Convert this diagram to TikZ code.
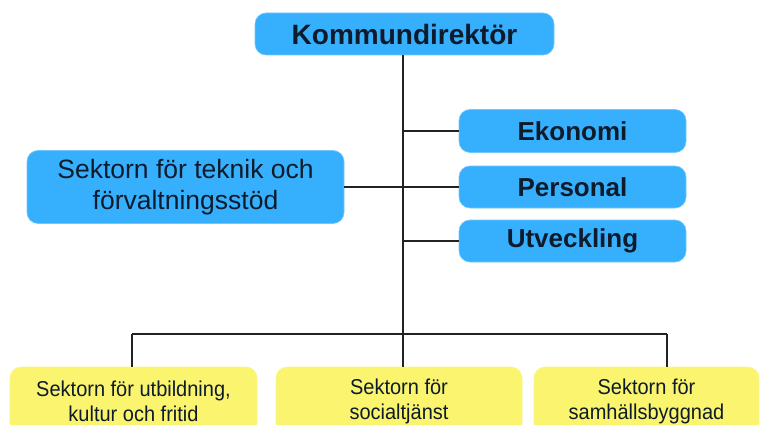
\documentclass[tikz,border=0pt]{standalone}
\usepackage{fontspec}
\setmainfont{Liberation Sans}
\newfontfamily\narrowfont[FakeStretch=0.93]{Liberation Sans}
\definecolor{boxblue}{HTML}{36AFFD}
\definecolor{boxyellow}{HTML}{FAF46E}
\definecolor{ink}{HTML}{0E1B2B}
\definecolor{linec}{HTML}{222222}
\begin{document}
\begin{tikzpicture}[x=1pt,y=-1pt,
  bluebox/.style={rectangle,rounded corners=11pt,fill=boxblue,draw=boxblue!70!white,line width=0.6pt,text=ink,align=center,inner sep=0pt},
  yellowbox/.style={rectangle,rounded corners=11pt,fill=boxyellow,draw=boxyellow!80!white,line width=0.6pt,text=ink,align=center,inner sep=0pt},
  conn/.style={draw=linec,line width=2pt}]
\useasboundingbox (0,0) rectangle (762,425);
\clip (0,0) rectangle (762,425);
\node[bluebox,minimum width=299pt,minimum height=42pt,font=\bfseries\fontsize{28}{32}\selectfont] (top) at (404.5,34) {Kommundirektör};
\node[bluebox,minimum width=317pt,minimum height=73pt,font=\fontsize{26.5}{31}\selectfont] (tek) at (185.5,187) {Sektorn för teknik och\\förvaltningsstöd};
\node[bluebox,minimum width=227pt,minimum height=43pt,font=\bfseries\fontsize{26}{30}\selectfont] (eko) at (572.5,131) {Ekonomi};
\node[bluebox,minimum width=227pt,minimum height=42pt,font=\bfseries\fontsize{26}{30}\selectfont] (pers) at (572.5,187) {Personal};
\node[bluebox,minimum width=227pt,minimum height=42pt,font=\bfseries\fontsize{26}{30}\selectfont] (utv) at (572.5,241) {Utveckling};
\node[yellowbox,minimum width=247pt,minimum height=68pt,font=\narrowfont\fontsize{21.5}{25}\selectfont] (b1) at (133.5,401) {Sektorn för utbildning,\\kultur och fritid};
\node[yellowbox,minimum width=246pt,minimum height=68pt,font=\narrowfont\fontsize{21.5}{25}\selectfont] (b2) at (399,401) {Sektorn för\\socialtjänst};
\node[yellowbox,minimum width=225pt,minimum height=68pt,font=\narrowfont\fontsize{21.5}{25}\selectfont] (b3) at (646.5,401) {Sektorn för\\samhällsbyggnad};
\coordinate (bus) at (403,334);
\coordinate (d1) at (132,334);
\coordinate (d3) at (667,334);
\draw[conn] (top.south -| bus) -- (bus);
\draw[conn] (d1) -- (d3);
\draw[conn] (d1) -- (d1 |- b1.north);
\draw[conn] (bus) -- (bus |- b2.north);
\draw[conn] (d3) -- (d3 |- b3.north);
\draw[conn] (tek.east) -- (tek.east -| bus);
\draw[conn] (eko.west) -- (eko.west -| bus);
\draw[conn] (pers.west) -- (pers.west -| bus);
\draw[conn] (utv.west) -- (utv.west -| bus);
\end{tikzpicture}
\end{document}
